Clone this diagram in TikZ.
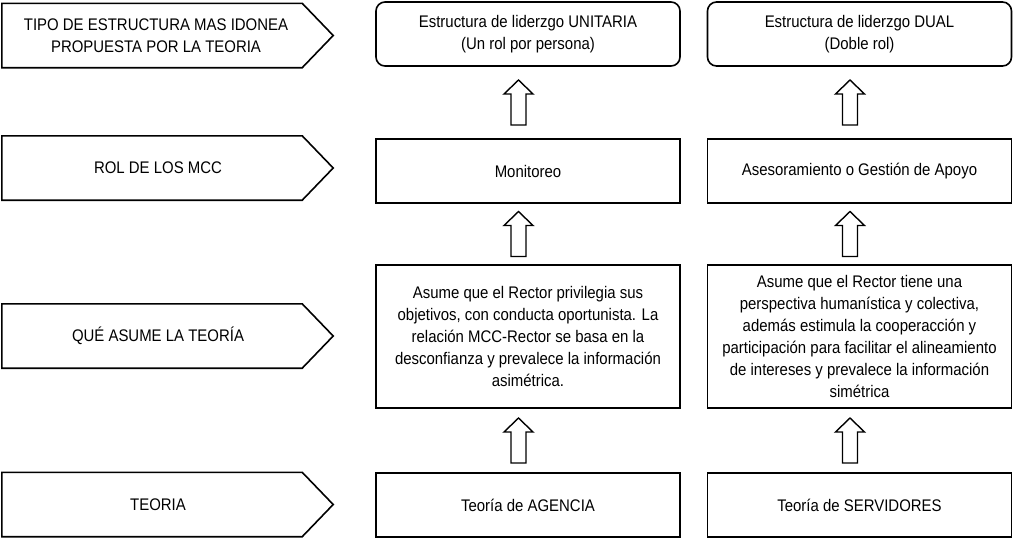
\documentclass[tikz,border=0pt]{standalone}
\usepackage{fontspec}
\setmainfont{Liberation Sans}[FakeStretch=0.89]
\usetikzlibrary{calc,positioning}

\tikzset{
  lbl/.style={minimum width=300pt, minimum height=64pt, inner sep=0pt, align=center},
  caja/.style={draw, line width=1.6pt, minimum width=304pt, minimum height=64pt, inner sep=0pt, align=center},
  redonda/.style={caja, rounded corners=9pt},
  upblock/.pic={\draw[line width=1.4pt, fill=white] (-7.5,22.5) -- (-7.5,-8.5) -- (-14.5,-8.5) -- (0,-22.5) -- (14.5,-8.5) -- (7.5,-8.5) -- (7.5,22.5) -- cycle;}
}

\begin{document}
\begin{tikzpicture}[x=1pt, y=-1pt, font=\fontsize{16.8}{22}\selectfont]
	\useasboundingbox (0,0) rectangle (1013,539);
	% left column
	\node[lbl] (tipo) at (156,35.5) {TIPO DE ESTRUCTURA MAS IDONEA\\PROPUESTA POR LA TEORIA};
	\node[lbl] (rol) at (158,168) {ROL DE LOS MCC};
	\node[lbl] (que) at (158,336) {QUÉ ASUME LA TEORÍA};
	\node[lbl] (teo) at (158,504.5) {TEORIA};
	\foreach \n/\d in {tipo/4,rol/6,que/6,teo/6}
		\draw[line width=1.6pt] ($(\n.north west)+(-\d,0)$) -- ($(\n.north east)+(-\d,0)$) -- ($(\n.east)+(31-\d,0)$)
			-- ($(\n.south east)+(-\d,0)$) -- ($(\n.south west)+(-\d,0)$) -- cycle;
	% agencia
	\node[redonda] (unit) at (528,34) {Estructura de liderzgo UNITARIA\\(Un rol por persona)};
	\node[caja] (moni) at (528,171) {Monitoreo};
	\node[caja, minimum height=143pt] (asumeA) at (528,336.5) {Asume que el Rector privilegia sus\\objetivos, con conducta oportunista. La\\relación MCC-Rector se basa en la\\desconfianza y prevalece la información\\asimétrica.};
	\node[caja] (agencia) at (528,505) {Teoría de AGENCIA};
	% servidores
	\node[redonda] (dual) at (859.5,34) {Estructura de liderzgo DUAL\\(Doble rol)};
	\node[caja] (aseso) at (859.5,171) {Asesoramiento o Gestión de Apoyo};
	\node[caja, minimum height=143pt] (asumeB) at (859.5,336.5) {Asume que el Rector tiene una\\perspectiva humanística y colectiva,\\además estimula la cooperacción y\\participación para facilitar el alineamiento\\de intereses y prevalece la información\\simétrica};
	\node[caja] (servi) at (859.5,505) {Teoría de SERVIDORES};
	% flechas
	\foreach \a/\b in {agencia/asumeA, asumeA/moni, moni/unit, servi/asumeB, asumeB/aseso, aseso/dual}
		\pic at ($(\a.north)!0.5!(\b.south)+(-9.5,0)$) {upblock};
\end{tikzpicture}
\end{document}
